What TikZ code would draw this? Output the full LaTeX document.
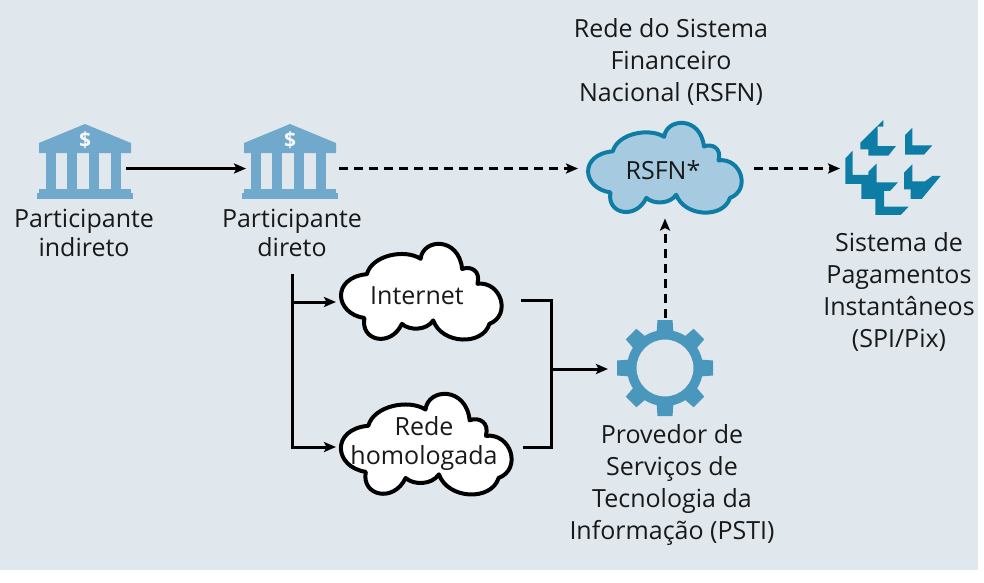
\documentclass[tikz,border=0pt]{standalone}
\usepackage{fontspec}
\setmainfont{Open Sans}
\usetikzlibrary{arrows.meta}
\definecolor{panel}{HTML}{E1E8ED}
\definecolor{bankblue}{HTML}{71A9CC}
\definecolor{gearblue}{HTML}{4A97BD}
\definecolor{spiblue}{HTML}{0E7DA5}
\definecolor{rsfnfill}{HTML}{A6CBE1}
\tikzset{
  label text/.style={align=center,inner sep=0pt,text=black!90,font=\fontsize{25}{32}\selectfont},
  tight text/.style={align=center,inner sep=0pt,text=black!90,font=\fontsize{25}{29}\selectfont},
  icon box/.style={inner sep=0pt,outer sep=0pt,draw=none},
  conn/.style={line width=3pt,-{Stealth[length=12pt,width=10pt,inset=2.5pt]}},
  connthin/.style={line width=3pt},
  dashconn/.style={conn,dash pattern=on 9pt off 6pt},
  whitecloud/.style={draw=black,fill=white,line width=4pt,line join=round},
  bluecloud/.style={draw=spiblue,fill=rsfnfill,line width=4pt,line join=round},
}
\newcommand\cloudpath{(125,150)
  .. controls (140,95) and (235,75) .. (283,105)
  .. controls (290,45) and (395,40) .. (405,135)
  .. controls (430,125) and (460,140) .. (450,178)
  .. controls (520,170) and (550,270) .. (485,295)
  .. controls (465,360) and (345,355) .. (320,285)
  .. controls (300,315) and (250,315) .. (228,295)
  .. controls (195,365) and (105,345) .. (118,278)
  .. controls (30,265) and (20,160) .. (125,150) -- cycle}
\newcommand\cloudat[5]{\path[#1,shift={(#2,#3)},xscale=#4/467,yscale=#5/283,shift={(-55,-62)}] \cloudpath;}
\newcommand\bankicon[1]{\begin{scope}[shift={(#1,0)}]
  \fill[bankblue] (0,124) -- (46,143) -- (46,153) -- (-46,153) -- (-46,143) -- cycle;
  \foreach \c in {-39,-18,4,26} \fill[bankblue] (\c,153) rectangle (\c+10,190);
  \fill[bankblue] (-46,189) rectangle (46,194);
  \fill[bankblue] (-48,193) rectangle (48,198.5);
  \node[icon box,text=panel!30!white,font=\bfseries\fontsize{21}{21}\selectfont] (dollar#1) at (0,140) {\$};
\end{scope}}
\begin{document}
\begin{tikzpicture}[x=1pt,y=-1pt]
\useasboundingbox (0,0) rectangle (984,582);
\fill[panel] (0,0) rectangle (978,570);

% banks
\bankicon{85}
\bankicon{290}
\node[icon box,minimum width=82pt,minimum height=74pt] (bankA) at (85,168.5) {};
\node[icon box,minimum width=93pt,minimum height=74pt] (bankB) at (292.5,168.5) {};

% clouds
\cloudat{bluecloud}{590}{123}{152}{91}
\cloudat{whitecloud}{343}{244}{159}{97}
\cloudat{whitecloud}{343}{394}{169}{102}
\node[icon box,minimum width=176pt,minimum height=100pt] (rsfn) at (666,168.5) {};
\node[icon box,text=black!90,font=\fontsize{25}{26}\selectfont] (rsfnlabel) at (663,170) {RSFN*};
\node[icon box,minimum width=173pt,minimum height=60pt] (inet) at (422.5,302) {};
\node[icon box,minimum width=183pt,minimum height=60pt] (homol) at (427.5,447) {};
\node[tight text] (inetlabel) at (417,296) {Internet};
\node[tight text] (homollabel) at (424,443.5) {Rede\\homologada};

% SPI logo
\begin{scope}[shift={(830,110)},x=0.3333pt,y=-0.3333pt]
\fill[spiblue] (160,30)--(160,50)--(143,50)--(143,108)--(198,108)--(175,137)--(115,137)--(115,118)--(91,118)--(91,98)--cycle;
\fill[spiblue] (247,53)--(247,106)--(307,106)--(282,134)--(225,134)--(225,75)--cycle;
\fill[spiblue] (68,122)--(46,145)--(46,222)--(94,222)--(94,267)--(136,267)--(136,315)--(212,315)--(236,290)--(162,290)--(162,243)--(180,243)--(204,217)--(140,217)--(140,160)--(115,185)--(115,195)--(68,195)--cycle;
\fill[spiblue] (247,163)--(222,188)--(222,238)--(242,238)--(242,267)--(275,267)--(332,198)--(307,198)--(285,214)--(247,214)--cycle;
\end{scope}
\node[icon box,minimum width=96pt,minimum height=96pt] (spi) at (888,168.5) {};

% gear
\begin{scope}[shift={(665,368)}]
\fill[gearblue,even odd rule] (0,0) circle (38) (0,0) circle (28.5);
\foreach \a in {0,45,...,315}
  \fill[gearblue,rotate=\a] (-7.5,-48)--(7.5,-48)--(8.5,-35)--(-8.5,-35)--cycle;
\end{scope}
\node[icon box,minimum width=114pt,minimum height=102pt] (gear) at (665,369) {};

% labels
\node[label text] (titleRSFN) at (671,62) {Rede do Sistema\\Financeiro\\Nacional (RSFN)};
\node[tight text] (labA) at (84,233) {Participante\\indireto};
\node[tight text] (labB) at (292,233) {Participante\\direto};
\node[label text] (labSPI) at (899,291.5) {Sistema de\\Pagamentos\\Instantâneos\\(SPI/Pix)};
\node[label text] (labPSTI) at (672,485) {Provedor de\\Serviços de\\Tecnologia da\\Informação (PSTI)};

% connectors
\coordinate (splitTop) at (292.5,274);
\coordinate (splitA) at (292.5,302);
\coordinate (joinTop) at (521,300);
\coordinate (joinBot) at (523,447);
\coordinate (joinMid) at (551,369);
\draw[conn] (bankA.east) -- (bankB.west);
\draw[dashconn] (bankB.east) -- (rsfn.west);
\draw[dashconn] (rsfn.east) -- (spi.west);
\draw[dashconn] (gear.north) -- (rsfn.south -| gear.north);
\draw[conn] (splitTop) |- (homol.west);
\draw[conn] (splitA) -- (inet.west);
\draw[connthin] (joinTop) -| (joinMid) |- (joinBot);
\draw[conn] (joinMid) -- (gear.west);
\end{tikzpicture}
\end{document}
